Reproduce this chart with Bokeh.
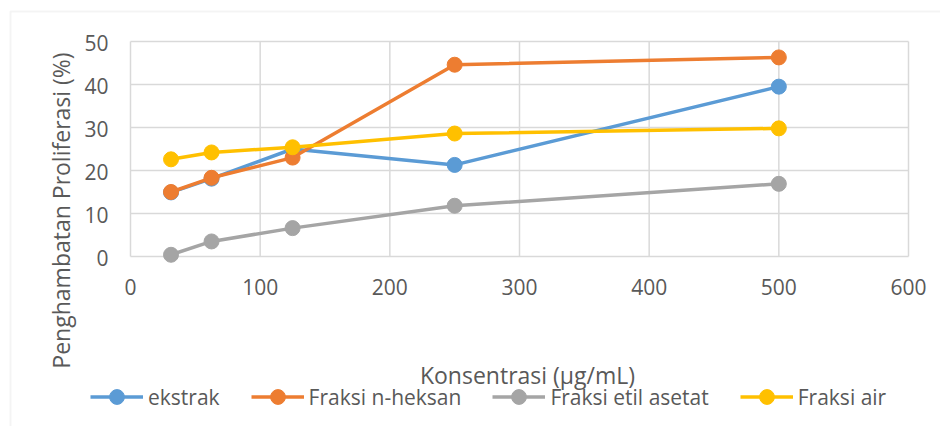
import math
from bokeh.plotting import figure
from bokeh.models import Legend, LegendItem, BoxAnnotation, Range1d
from bokeh.embed import file_html
from bokeh.resources import INLINE

conc = [31.25, 62.5, 125, 250, 500]
ekstrak = [14.9, 18.1, 25.0, 21.3, 39.5]
n_heksan = [15.0, 18.3, 23.0, 44.6, 46.3]
etil_asetat = [0.4, 3.5, 6.6, 11.8, 16.9]
air = [22.6, 24.2, 25.4, 28.6, 29.8]

series_names = ["ekstrak", "Fraksi n-heksan", "Fraksi etil asetat", "Fraksi air"]
series_values = [ekstrak, n_heksan, etil_asetat, air]
series_colors = ["#5B9BD5", "#ED7D31", "#A5A5A5", "#FFC000"]

x_ticks = [0, 100, 200, 300, 400, 500, 600]
y_ticks = [0, 10, 20, 30, 40, 50]
x_title = "Konsentrasi (μg/mL)"
y_title = "Penghambatan Proliferasi (%)"

FONT = "Open Sans"
TXT = "#595959"
GRID = "#d9d9d9"

# page geometry (pixels)
W, H = 940, 426
PL, PR, PT, PB = 130, 908, 41, 256

x0, x1 = x_ticks[0], x_ticks[-1]
y0, y1 = y_ticks[0], y_ticks[-1]
sx = (PR - PL) / (x1 - x0)
sy = (PB - PT) / (y1 - y0)
xr = Range1d(x0 - PL / sx, x1 + (W - PR) / sx)
yr = Range1d(y0 - (H - PB) / sy, y1 + PT / sy)

p = figure(width=W, height=H, output_backend="svg", toolbar_location=None,
           x_range=xr, y_range=yr, x_axis_location=None, y_axis_location=None,
           min_border=0, min_border_left=0, min_border_right=0,
           min_border_top=0, min_border_bottom=0)
p.outline_line_color = None
p.xgrid.visible = False
p.ygrid.visible = False
p.background_fill_color = "white"
p.border_fill_color = "white"

# outer chart-area border (cut at the right and bottom in the reference)
p.add_layout(BoxAnnotation(left=10, right=5000, top=H - 11, bottom=-5000,
                           left_units="screen", right_units="screen",
                           top_units="screen", bottom_units="screen",
                           fill_alpha=0, line_color=GRID, line_width=2))

# grid lines (including plot-area edges)
p.segment(x0=x_ticks, y0=[y0] * len(x_ticks), x1=x_ticks, y1=[y1] * len(x_ticks),
          line_color=GRID, line_width=1.5)
p.segment(x0=[x0] * len(y_ticks), y0=y_ticks, x1=[x1] * len(y_ticks), y1=y_ticks,
          line_color=GRID, line_width=1.5)

# series
items = []
for name, vals, col in zip(series_names, series_values, series_colors):
    r1 = p.line(conc, vals, line_color=col, line_width=3.5)
    r2 = p.scatter(conc, vals, size=15, fill_color=col, line_color=col)
    items.append(LegendItem(label=name, renderers=[r1, r2]))

# tick labels
p.text(x=x_ticks, y=[y0] * len(x_ticks), text=[str(t) for t in x_ticks],
       text_align="center", text_baseline="alphabetic", y_offset=30,
       text_font={"value": FONT}, text_font_size="21px", text_color=TXT)
p.text(x=[x0] * len(y_ticks), y=y_ticks, text=[str(t) for t in y_ticks],
       text_align="right", text_baseline="alphabetic", x_offset=-22, y_offset=1.5,
       text_font={"value": FONT}, text_font_size="21px", text_color=TXT)

# axis titles
p.text(x=[(x0 + x1) / 2], y=[y0], text=[x_title],
       text_align="center", text_baseline="alphabetic", x_offset=8, y_offset=118,
       text_font={"value": FONT}, text_font_size="23px", text_color=TXT)
p.text(x=[x0], y=[y0], text=[y_title], angle=math.pi / 2,
       text_align="center", text_baseline="middle", x_offset=-70, y_offset=-46,
       text_font={"value": FONT}, text_font_size="23px", text_color=TXT)

legend = Legend(items=items, orientation="horizontal", location=(90, 11),
                glyph_width=53, glyph_height=37, label_height=37, label_standoff=5, spacing=31,
                padding=0, margin=0, background_fill_alpha=0, border_line_color=None,
                label_text_font=FONT, label_text_font_size="21px", label_text_color=TXT)
p.add_layout(legend, "center")

open("out.html", "w").write(file_html(p, INLINE))
